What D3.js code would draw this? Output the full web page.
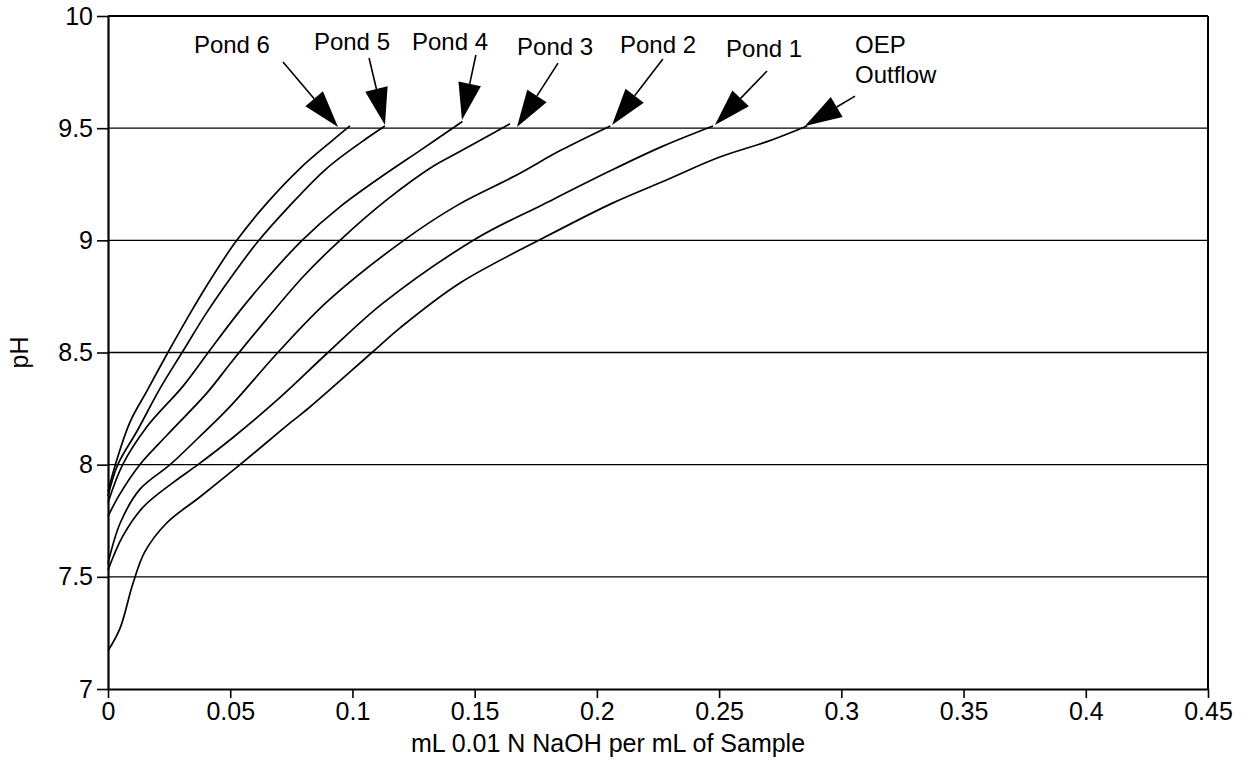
<!DOCTYPE html>
<html>
<head>
<meta charset="utf-8">
<script src="https://cdn.jsdelivr.net/npm/d3@7"></script>
<style>
  body { margin: 0; background: #fff; }
  svg text { font-family: "Liberation Sans", Arial, Helvetica, sans-serif; fill: #000; }
</style>
</head>
<body>
<div id="chart"></div>
<script>
// titration curves: [mL NaOH per mL, pH]
var pond6 = [[0, 7.88], [0.003, 8.0], [0.009, 8.19], [0.016, 8.33], [0.0245, 8.5], [0.0323, 8.65],
    [0.0405, 8.8], [0.052, 8.99], [0.065, 9.166], [0.0785, 9.32], [0.092, 9.447], [0.099, 9.51]];
var pond5 = [[0, 7.86], [0.004, 8.0], [0.0119, 8.15], [0.0213, 8.34], [0.0303, 8.5], [0.0405, 8.68],
    [0.05, 8.83], [0.061, 8.99], [0.074, 9.15], [0.0894, 9.32], [0.106, 9.456], [0.1133, 9.51]];
var pond4 = [[0, 7.83], [0.006, 8.0], [0.016, 8.17], [0.0307, 8.35], [0.041, 8.5], [0.0528, 8.67],
    [0.0634, 8.81], [0.0794, 9.0], [0.095, 9.15], [0.114, 9.3], [0.1276, 9.4], [0.145, 9.53]];
var pond3 = [[0, 7.77], [0.0049, 7.87], [0.013, 8.0], [0.024, 8.13], [0.0405, 8.32], [0.0507, 8.46],
    [0.065, 8.65], [0.08, 8.84], [0.0949, 9.0], [0.114, 9.18], [0.133, 9.33], [0.143, 9.39], [0.1645, 9.52]];
var pond2 = [[0, 7.56], [0.005, 7.74], [0.013, 7.89], [0.0254, 8.0], [0.037, 8.12], [0.05, 8.26],
    [0.0695, 8.5], [0.09, 8.73], [0.121, 9.0], [0.143, 9.157], [0.167, 9.29], [0.185, 9.4], [0.2055, 9.51]];
var pond1 = [[0, 7.53], [0.006, 7.68], [0.0143, 7.81], [0.0266, 7.92], [0.0368, 8.0], [0.051, 8.12],
    [0.0704, 8.3], [0.09, 8.5], [0.1125, 8.72], [0.151, 9.01], [0.178, 9.16], [0.2055, 9.31],
    [0.227, 9.42], [0.2475, 9.51]];
var oepOutflow = [[0, 7.17], [0.0049, 7.27], [0.0102, 7.47], [0.015, 7.61], [0.024, 7.74], [0.0376, 7.856],
    [0.054, 8.0], [0.0745, 8.186], [0.0826, 8.257], [0.108, 8.5], [0.1195, 8.61], [0.144, 8.81],
    [0.178, 9.01], [0.2066, 9.167], [0.2287, 9.27], [0.25, 9.37], [0.2696, 9.44], [0.286, 9.51]];

var seriesNames = ['Pond 6', 'Pond 5', 'Pond 4', 'Pond 3', 'Pond 2', 'Pond 1', 'OEP Outflow'];
var seriesData = [pond6, pond5, pond4, pond3, pond2, pond1, oepOutflow];

// label text lines, label anchor [x, pH], arrow tail [x, pH], arrow tip [x, pH]
var labelLines = [['Pond 6'], ['Pond 5'], ['Pond 4'], ['Pond 3'], ['Pond 2'], ['Pond 1'], ['OEP', 'Outflow']];
var labelAt = [[0.0507, 9.835], [0.0998, 9.848], [0.1399, 9.848], [0.1829, 9.826],
    [0.225, 9.835], [0.2684, 9.817], [0.3056, 9.835]];
var arrowTail = [[0.0716, 9.795], [0.1068, 9.813], [0.1505, 9.826], [0.1841, 9.79],
    [0.227, 9.808], [0.2696, 9.755], [0.3056, 9.643]];
var arrowTip = [[0.0941, 9.505], [0.1133, 9.514], [0.1448, 9.536], [0.1673, 9.505],
    [0.2062, 9.514], [0.2483, 9.514], [0.2851, 9.51]];

var xTicks = [0, 0.05, 0.1, 0.15, 0.2, 0.25, 0.3, 0.35, 0.4, 0.45];
var yTicks = [7, 7.5, 8, 8.5, 9, 9.5, 10];
var gridValues = [7.5, 8, 8.5, 9, 9.5];

(function () {
    var W = 1252, H = 766;
    var plotLeft = 108, plotRight = 1208, plotTop = 16, plotBottom = 689;

    var svg = d3.select('#chart').append('svg')
        .attr('width', W)
        .attr('height', H);

    var x = d3.scaleLinear().domain([0, 0.45]).range([plotLeft, plotRight]);
    var y = d3.scaleLinear().domain([7, 10]).range([plotBottom, plotTop]);

    // horizontal grid
    svg.append('g').selectAll('line')
        .data(gridValues)
        .enter().append('line')
        .attr('x1', plotLeft).attr('x2', plotRight)
        .attr('y1', function (v) { return y(v); })
        .attr('y2', function (v) { return y(v); })
        .attr('stroke', '#000')
        .attr('stroke-width', 1.4);

    // frame top / right
    svg.append('line').attr('x1', plotLeft).attr('x2', plotRight).attr('y1', y(10)).attr('y2', y(10))
        .attr('stroke', '#000').attr('stroke-width', 2);
    svg.append('line').attr('x1', x(0.45)).attr('x2', x(0.45)).attr('y1', plotTop).attr('y2', plotBottom)
        .attr('stroke', '#000').attr('stroke-width', 2);

    var xAxis = d3.axisBottom(x)
        .tickValues(xTicks)
        .tickSize(9)
        .tickPadding(4)
        .tickSizeOuter(0)
        .tickFormat(function (d) { return String(+d.toFixed(2)); });

    var yAxis = d3.axisLeft(y)
        .tickValues(yTicks)
        .tickSize(11)
        .tickPadding(4)
        .tickSizeOuter(0)
        .tickFormat(function (d) { return String(d); });

    var gx = svg.append('g')
        .attr('transform', 'translate(0,' + plotBottom + ')')
        .call(xAxis);
    var gy = svg.append('g')
        .attr('transform', 'translate(' + plotLeft + ',0)')
        .call(yAxis);

    [gx, gy].forEach(function (g) {
        g.select('.domain').attr('stroke', '#000').attr('stroke-width', 2.2);
        g.selectAll('.tick line').attr('stroke', '#000').attr('stroke-width', 1.6);
        g.selectAll('.tick text').attr('font-size', 25).attr('fill', '#000')
            .attr('font-family', '"Liberation Sans", Arial, Helvetica, sans-serif');
    });

    // axis titles
    svg.append('text')
        .attr('x', 608).attr('y', 752)
        .attr('text-anchor', 'middle')
        .attr('font-size', 25)
        .text('mL 0.01 N NaOH per mL of Sample');

    svg.append('text')
        .attr('transform', 'translate(28,' + ((plotTop + plotBottom) / 2) + ') rotate(-90)')
        .attr('text-anchor', 'middle')
        .attr('font-size', 25)
        .text('pH');

    // curves
    var line = d3.line()
        .x(function (d) { return x(d[0]); })
        .y(function (d) { return y(d[1]); })
        .curve(d3.curveCatmullRom.alpha(0.5));

    svg.append('g').selectAll('path')
        .data(seriesData)
        .enter().append('path')
        .attr('d', line)
        .attr('fill', 'none')
        .attr('stroke', '#000')
        .attr('stroke-width', 1.7);

    // labels with arrows
    var notes = svg.append('g');
    seriesNames.forEach(function (name, i) {
        var lx = x(labelAt[i][0]), ly = y(labelAt[i][1]);
        var twoLines = labelLines[i].length > 1;
        var t = notes.append('text')
            .attr('x', lx).attr('y', ly)
            .attr('text-anchor', twoLines ? 'start' : 'middle')
            .attr('font-size', 24);
        labelLines[i].forEach(function (s, k) {
            t.append('tspan').attr('x', lx).attr('dy', k ? 30 : 0).text(s);
        });

        var sx = x(arrowTail[i][0]), sy = y(arrowTail[i][1]);
        var tx = x(arrowTip[i][0]), ty = y(arrowTip[i][1]);
        var len = Math.hypot(tx - sx, ty - sy);
        var ux = (tx - sx) / len, uy = (ty - sy) / len;
        var headLen = 37, halfW = 11.5;
        var bx = tx - ux * headLen, by = ty - uy * headLen;

        notes.append('line')
            .attr('x1', sx).attr('y1', sy).attr('x2', bx).attr('y2', by)
            .attr('stroke', '#000').attr('stroke-width', 1.6);
        notes.append('polygon')
            .attr('points', [[tx, ty], [bx - uy * halfW, by + ux * halfW], [bx + uy * halfW, by - ux * halfW]]
                .map(function (p) { return p.join(','); }).join(' '))
            .attr('fill', '#000');
    });
})();
</script>
</body>
</html>
